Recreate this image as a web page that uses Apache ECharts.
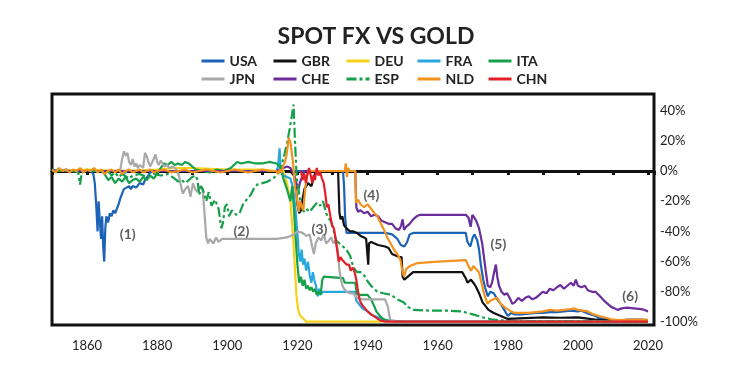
<!DOCTYPE html>
<html><head><meta charset="utf-8">
<script src="https://cdn.jsdelivr.net/npm/echarts@6/dist/echarts.min.js"></script>
<style>html,body{margin:0;padding:0;background:#fff}#c{width:752px;height:382px}</style>
</head><body><div id="c"></div>
<script>
// ---- categories / series names ----
const seriesNames = ['USA','GBR','DEU','FRA','ITA','JPN','CHE','ESP','NLD','CHN'];
const seriesColors = ['#1c63b7','#111111','#f7d117','#29a8e0','#17a04a','#a9a9a9','#6b2c9c','#17a04a','#f3931f','#e3202a'];

// ---- series values: [year, % change vs gold] ----
const usa = [[1850,1],[1852,0],[1854,1],[1856,0],[1858,1],[1860,0],[1861,0],[1861.8,-2],[1862.2,-8],[1862.6,-22],[1863,-40],[1863.3,-20],[1863.7,-35],[1864,-45],[1864.3,-30],[1864.6,-50],[1864.9,-60],[1865.2,-38],[1865.5,-30],[1866,-34],[1866.5,-28],[1867,-30],[1867.5,-26],[1868,-28],[1868.5,-25],[1869,-22],[1869.5,-18],[1870,-15],[1870.5,-12],[1871,-11],[1872,-10],[1872.5,-12],[1873,-10],[1874,-11],[1875,-8],[1876,-9],[1876.5,-6],[1877,-5],[1877.5,-3],[1878,-1],[1879,0],[1900,0],[1914,0],[1933,0],[1933.3,-10],[1933.6,-30],[1934,-41],[1940,-41],[1945,-41],[1947,-42],[1948.5,-45],[1949.5,-49],[1950.5,-50],[1951.3,-47],[1952,-42],[1953,-41],[1968,-41],[1968.5,-47],[1969.3,-50],[1970,-44],[1970.5,-42],[1971.3,-46],[1971.8,-52],[1972.3,-62],[1973,-72],[1973.5,-77],[1974.3,-83],[1975,-80],[1976,-81],[1977,-85],[1978,-88],[1979,-92],[1980,-96],[1981,-94],[1982,-95],[1984,-95],[1986,-94.5],[1988,-94],[1990,-94],[1992,-93.5],[1994,-93.5],[1996,-93],[1998,-92.5],[2000,-93],[2001,-92.5],[2003,-94.5],[2005,-96],[2006,-97.5],[2008,-98],[2010,-99],[2012,-99],[2014,-98.5],[2016,-98.5],[2018,-98.5],[2020,-98.8]];
const gbr = [[1850,0],[1914,0],[1918,0],[1919,-3],[1919.5,-10],[1920,-22],[1920.5,-28],[1921,-26],[1921.5,-18],[1922,-12],[1923,-8],[1924,-10],[1924.8,-3],[1925.3,0],[1931.6,0],[1931.8,-15],[1932,-28],[1932.3,-32],[1932.8,-30],[1933.3,-36],[1934,-38],[1935,-40],[1936,-40],[1937,-41],[1938,-43],[1939,-44],[1939.6,-45],[1940.2,-62],[1940.4,-48],[1941,-47],[1943,-49],[1945,-50],[1946,-51],[1947,-55],[1948,-56],[1949,-57],[1949.7,-57],[1950,-70],[1950.5,-72],[1951,-71],[1952,-69],[1953,-67],[1967,-67],[1968,-71],[1968.5,-74],[1969.5,-72],[1970,-73],[1970.5,-75],[1971,-77],[1972,-82],[1972.8,-87],[1973.5,-89],[1974.5,-92],[1976,-94],[1978,-96],[1980,-98],[1985,-97.5],[1990,-97],[1995,-97.2],[2000,-97],[2005,-98.5],[2010,-99.2],[2020,-99.3]];
const deu = [[1850,0],[1860,1],[1870,0],[1880,1],[1885,2],[1890,2],[1900,1],[1910,1],[1914,0],[1916,0],[1917,-8],[1918,-20],[1918.8,-45],[1919.3,-65],[1919.7,-82],[1920.2,-92],[1920.8,-96],[1921.8,-98],[1922.5,-99.8],[1944,-99.8]];
const fra = [[1850,0],[1870,0],[1870.5,-2],[1871.5,0],[1914,0],[1914.5,3],[1914.9,15],[1915.2,2],[1916,-3],[1917,-4],[1918,-5],[1918.6,-10],[1919,-16],[1919.5,-27],[1920,-42],[1920.4,-55],[1920.8,-60],[1921.2,-52],[1921.6,-62],[1922,-58],[1922.5,-66],[1923,-60],[1923.5,-69],[1924,-74],[1924.4,-67],[1924.8,-72],[1925.3,-76],[1925.8,-83],[1926.2,-78],[1926.7,-82],[1927.2,-80],[1936.4,-80],[1936.8,-86],[1937.5,-88],[1938.5,-91],[1940,-93],[1941,-95],[1943,-97],[1945,-99],[1950,-99.5],[2020,-99.7]];
const ita = [[1850,0],[1855,0],[1860,0],[1864,0],[1865,-2],[1866,-6],[1867,-4],[1868,-8],[1869,-5],[1870,-7],[1871,-4],[1872,-8],[1873,-6],[1874,-5],[1875,-7],[1876,-4],[1877,-6],[1878,-3],[1879,-5],[1880,-2],[1881,2],[1882,5],[1883,4],[1884,6],[1885,4],[1886,5],[1887,4],[1888,6],[1889,5],[1890,3],[1891,1],[1893,0],[1895,-1],[1897,1],[1899,0],[1901,2],[1902.8,6],[1904,5],[1906,6],[1908,5],[1910,5],[1912,6],[1914,5],[1915,3],[1916,-5],[1917,-12],[1918,-20],[1918.5,-10],[1919,-25],[1919.5,-45],[1920,-62],[1920.5,-74],[1921,-70],[1921.5,-76],[1922,-72],[1922.5,-78],[1923,-76],[1923.5,-79],[1924,-77],[1924.5,-80],[1925,-78],[1925.5,-82],[1926,-80],[1926.6,-82],[1927.1,-72],[1927.5,-70],[1928,-71],[1933,-71],[1933.5,-74],[1936.5,-74],[1936.9,-81],[1937.5,-82],[1940,-82],[1941,-85],[1942,-90],[1942.5,-93],[1943.5,-96],[1944.5,-98],[1946,-99.3],[1950,-99.6],[2020,-99.8]];
const jpn = [[1868,0],[1869.5,1],[1870,8],[1870.5,13],[1871,10],[1871.5,12],[1872,6],[1872.5,4],[1873,8],[1873.5,3],[1874,5],[1874.5,2],[1875,4],[1876,2],[1876.5,12],[1877,10],[1877.5,6],[1878,3],[1879,8],[1879.5,11],[1880,6],[1880.5,4],[1881,7],[1882,3],[1882.8,4],[1883.5,2],[1884.5,3],[1885.5,1],[1886.2,-3],[1886.8,-10],[1887.3,-15],[1888,-12],[1888.8,-10],[1889.5,-17],[1890.2,-8],[1890.8,-12],[1891.5,-14],[1892.2,-10],[1893,-13],[1893.5,-28],[1894,-44],[1894.5,-48],[1895,-45],[1896,-48],[1896.8,-44],[1897.5,-47],[1898.5,-45],[1900,-45],[1905,-45],[1910,-45],[1914,-45],[1917,-44],[1919,-42],[1920,-40],[1921.5,-41],[1922.5,-43],[1923.5,-42],[1924.2,-50],[1924.7,-55],[1925.2,-48],[1926,-44],[1926.8,-46],[1927.5,-42],[1928.2,-48],[1929,-46],[1929.6,-44],[1930.3,-48],[1930.8,-46],[1931.5,-52],[1931.9,-64],[1932.4,-72],[1933,-77],[1934,-80],[1935,-81],[1936,-81],[1937,-84],[1938.5,-85],[1942,-85],[1945,-85],[1945.8,-90],[1946.5,-99],[1948,-99.6],[1950,-99.7],[2020,-99.8]];
const che = [[1850,0],[1914,0],[1915,1],[1917,3],[1918,2],[1919,-2],[1919.7,-8],[1920.3,-12],[1920.8,-7],[1921.5,-3],[1922,0],[1936.5,0],[1936.8,-24],[1937.3,-27],[1938,-26],[1939,-28],[1940,-27],[1941,-30],[1942,-29],[1943,-30],[1944,-33],[1945,-34],[1946,-35],[1947,-35],[1948,-38],[1949,-39],[1949.6,-36],[1950,-32],[1950.4,-39],[1951,-37],[1952,-35],[1953,-32],[1954,-30],[1955,-29],[1968,-29],[1968.8,-31],[1969.4,-37],[1969.9,-29],[1970.5,-31],[1971,-33],[1971.8,-38],[1972.7,-48],[1973.2,-57],[1973.7,-66],[1974.3,-76],[1975,-77],[1975.5,-74],[1976.1,-67],[1976.6,-62],[1977,-70],[1977.5,-76],[1978.2,-80],[1979,-82],[1979.8,-81],[1980.5,-84],[1981.3,-88],[1982,-87],[1983,-84],[1984,-86],[1985,-84],[1986,-83],[1987,-85],[1988,-84],[1989,-82],[1990,-80],[1991,-81],[1992,-78],[1993,-79],[1994,-77],[1995,-75.5],[1996,-78],[1997,-76],[1998,-74],[1998.8,-76],[1999.4,-72],[2000,-76],[2001,-77],[2002,-76],[2002.8,-79],[2004,-80],[2005,-80],[2006.3,-83],[2007.5,-86],[2008.5,-88],[2009.5,-90],[2010.5,-91],[2011.3,-92],[2012.5,-91],[2014,-90.5],[2016,-91],[2018,-91.5],[2019,-92],[2020,-93]];
const esp = [[1850,0],[1856,0],[1857.5,-1],[1858,-9],[1858.5,-1],[1860,0],[1866,0],[1867,-3],[1868,-1],[1869,-4],[1870,-2],[1872,-5],[1873,-3],[1875,-2],[1877,-4],[1879,-2],[1881,-3],[1883,-2],[1885,-5],[1886,-7],[1887,-6],[1888,-8],[1889,-6],[1890,-4],[1891,-3],[1891.5,-6],[1892,-16],[1892.5,-10],[1893,-12],[1894,-20],[1894.7,-14],[1895.5,-23],[1896.5,-19],[1897.5,-25],[1898.3,-38],[1898.8,-34],[1899.3,-24],[1899.9,-22],[1900.5,-30],[1901.3,-26],[1902.5,-29],[1903.5,-28],[1904.5,-22],[1905.5,-19],[1906.6,-16],[1907.5,-12],[1908.5,-9],[1910,-8],[1911.5,-7],[1913,-5],[1914,-3],[1915,0],[1916,8],[1917,18],[1917.8,28],[1918.5,38],[1918.9,44],[1919.3,20],[1919.8,-5],[1920.3,-12],[1920.8,-20],[1921.3,-24],[1921.8,-27],[1922.5,-25],[1923.5,-27],[1924.5,-24],[1925.6,-21],[1926.5,-23],[1927.3,-20],[1928.2,-28],[1928.8,-31],[1929.5,-33],[1930.2,-38],[1931,-46],[1932,-48],[1933,-50],[1934.2,-53],[1935,-56],[1936,-64],[1937,-67],[1938,-67],[1939,-69],[1940,-73],[1941,-76],[1942.8,-80],[1944.5,-81],[1946.6,-82],[1948.5,-85],[1950.3,-87],[1951.5,-90],[1953,-92],[1958,-92.5],[1963,-92.5],[1967,-93],[1970,-95],[1973,-97],[1976,-98.5],[1980,-99.3],[1990,-99.5],[2000,-99.6],[2020,-99.7]];
const nld = [[1850,1],[1851,-1],[1852,2],[1853,0],[1854,1],[1855,-1],[1856,1],[1857,0],[1858,2],[1859,-1],[1860,1],[1861,0],[1862,2],[1863,-1],[1864,1],[1865,-2],[1866,0],[1867,1],[1868,-1],[1869,1],[1870,-2],[1871,0],[1872,1],[1873,-1],[1874,0],[1875,1],[1876,-1],[1877,0],[1878,1],[1879,-1],[1880,0],[1882,1],[1884,-1],[1886,0],[1888,1],[1890,-1],[1892,0],[1894,1],[1896,0],[1898,-1],[1900,0],[1902,1],[1904,0],[1906,-1],[1908,0],[1910,1],[1912,0],[1914,0],[1914.5,-2],[1915,1],[1915.5,-1],[1916,4],[1916.5,6],[1917,12],[1917.5,22],[1918,19],[1918.4,12],[1918.8,4],[1919.2,-8],[1919.7,-16],[1920.1,-22],[1920.4,-27],[1920.8,-20],[1921.3,-24],[1921.7,-26],[1922.2,-12],[1922.8,-2],[1923.5,0],[1933.5,0],[1933.8,5],[1934.1,-4],[1934.5,2],[1934.9,0],[1936.5,0],[1936.7,-21],[1937.3,-19],[1938,-22],[1939,-24],[1940,-22],[1941,-25],[1942,-28],[1942.8,-30],[1943.8,-35],[1944.7,-39],[1945.6,-44],[1946.6,-48],[1947.5,-52],[1948.5,-55],[1949.4,-59],[1949.9,-66],[1950.4,-70],[1951,-65],[1952,-63],[1954.2,-61],[1960,-60],[1968,-59],[1968.8,-63],[1969.5,-66],[1970.2,-63],[1971,-65],[1971.8,-67],[1972.3,-72],[1973.2,-81],[1974.2,-88],[1975,-86],[1976,-85],[1977,-84],[1978,-88],[1979.5,-91],[1981,-93],[1982,-94],[1984,-94],[1986,-94],[1988,-93.5],[1990,-93],[1992,-92],[1994,-92.5],[1996,-92],[1998,-91.5],[1999,-91],[2000,-92],[2002.8,-93],[2004.5,-95],[2006,-96],[2008.5,-97.5],[2010,-98.5],[2012,-98.7],[2015,-98.5],[2018,-98.5],[2020,-98.6]];
const chn = [[1921,0],[1921.5,-6],[1922,-2],[1922.4,-8],[1922.8,-3],[1923.3,2],[1923.7,-2],[1924.2,-8],[1924.6,-3],[1925,-6],[1925.5,2],[1926,-3],[1926.5,-1],[1927,-5],[1927.5,-8],[1928,-16],[1928.4,-24],[1928.8,-22],[1929.4,-30],[1929.9,-36],[1930.4,-38],[1930.9,-45],[1931.3,-52],[1931.8,-60],[1932.3,-57],[1932.8,-59],[1933.3,-58],[1934,-62],[1934.7,-62],[1935.2,-66],[1935.8,-64],[1936.3,-67],[1936.8,-72],[1937.3,-80],[1937.8,-86],[1938.5,-89],[1939.3,-91],[1940,-93],[1941,-95],[1942,-96.5],[1943,-98],[1944,-99.3],[1945,-99.8],[2020,-99.8]];
const seriesData = [usa,gbr,deu,fra,ita,jpn,che,esp,nld,chn];

// ---- tick labels ----
const yTickLabels = [-100,-80,-60,-40,-20,0,20,40];
const xTickLabels = [1860,1880,1900,1920,1940,1960,1980,2000,2020];

// ---- annotations ----
const annoLabels = ['(1)','(2)','(3)','(4)','(5)','(6)'];
const annoYears = [1871.6,1904,1926.3,1941.1,1977.3,2014.9];
const annoValues = [-42,-40,-39,-16,-49,-83];

const FONT = 'Lato, "Noto Sans", sans-serif';
const chart = echarts.init(document.getElementById('c'));

const legendPos = [[200,54],[272,54],[345,54],[416,54],[487,54],[200,72],[272,72],[345,72],[416,72],[487,72]];
const legendOrder = ['USA','GBR','DEU','FRA','ITA','JPN','CHE','ESP','NLD','CHN'];
const legends = legendOrder.map((n,i)=>({
  data:[n], left:legendPos[i][0], top:legendPos[i][1], padding:0, itemGap:0,
  itemWidth:23, itemHeight:12, lineStyle:{width:3},
  itemStyle:{color:'rgba(0,0,0,0)', borderColor:'rgba(0,0,0,0)', borderWidth:0, opacity:0},
  textStyle:{fontFamily:FONT, fontSize:14, color:'#222', fontWeight:'bold'}
}));

const series = seriesNames.map((n,i)=>({
  name:n, type:'line', data:seriesData[i], symbol:'none', showSymbol:false,
  xAxisIndex:0, yAxisIndex:0,
  lineStyle:{color:seriesColors[i], width:2.2, type: n==='ESP' ? [10,3,3,3] : 'solid'},
  itemStyle:{color:seriesColors[i]}
}));
series.push({
  name:'anno', type:'scatter', xAxisIndex:0, yAxisIndex:0,
  data: annoYears.map((x,i)=>({value:[x,annoValues[i]], name:annoLabels[i]})),
  symbolSize:1, itemStyle:{color:'rgba(0,0,0,0)'},
  label:{show:true, position:'inside', formatter:'{b}', fontFamily:FONT, fontSize:14, fontWeight:'bold', color:'#333'},
  z:10
});

chart.setOption({
  animation:false,
  title:{text:'SPOT FX VS GOLD', left:'center', top:20,
    textStyle:{fontFamily:FONT, fontSize:23, fontWeight:'bold', color:'#222'}},
  legend:legends,
  grid:{left:52, right:98, top:94, bottom:57, show:true, borderColor:'#111', borderWidth:3, backgroundColor:'transparent'},
  xAxis:[{
    type:'value', min:1850, max:2021.7, interval:10, position:'bottom',
    axisLine:{show:false, onZero:false}, axisTick:{show:false}, splitLine:{show:false},
    axisLabel:{margin:14, fontFamily:FONT, fontSize:13, color:'#222',
      formatter:v=> xTickLabels.indexOf(Math.round(v))>=0 && Math.abs(v-Math.round(v))<1e-6 ? String(Math.round(v)) : ''}
  },{
    type:'value', min:1850, max:2021.7, interval:10, position:'bottom',
    axisLine:{show:true, onZero:true, lineStyle:{color:'#111', width:3}},
    axisTick:{show:true, length:4, lineStyle:{color:'#111', width:3}},
    axisLabel:{show:false}, splitLine:{show:false}
  }],
  yAxis:{
    type:'value', position:'right', min:-102, max:51, interval:2,
    axisLine:{show:false}, axisTick:{show:false}, splitLine:{show:false},
    axisLabel:{margin:6, fontFamily:FONT, fontSize:13, color:'#222',
      formatter:v=>{const r=Math.round(v); return (Math.abs(v-r)<1e-6 && yTickLabels.indexOf(r)>=0) ? r+'%' : '';}}
  },
  series:series
});
</script></body></html>
